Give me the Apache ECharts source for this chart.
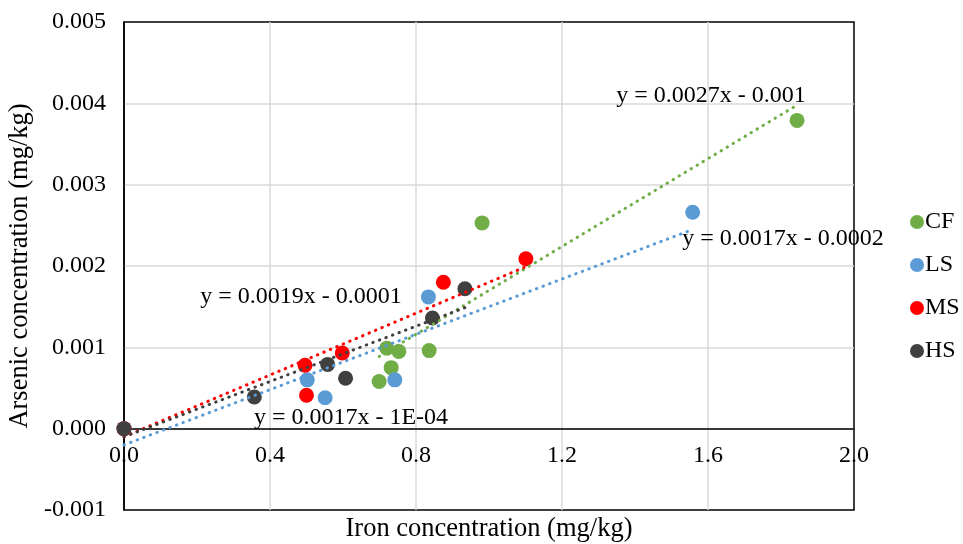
<!DOCTYPE html>
<html>
<head>
<meta charset="utf-8">
<script src="https://cdn.jsdelivr.net/npm/echarts@6/dist/echarts.min.js"></script>
<style>
  html, body { margin: 0; padding: 0; background: #fff; }
  #chart { width: 963px; height: 544px; }
</style>
</head>
<body>
<div id="chart"></div>
<script>
// Iron (x) vs arsenic (y) concentrations, mg/kg, for each sample group
const cfIron    = [0.699, 0.720, 0.732, 0.753, 0.836, 0.981, 1.844];
const cfArsenic = [0.00058, 0.00099, 0.00075, 0.00095, 0.00096, 0.00253, 0.00379];

const lsIron    = [0, 0.502, 0.551, 0.742, 0.834, 1.558];
const lsArsenic = [0, 0.00060, 0.00038, 0.00060, 0.00162, 0.00266];

const msIron    = [0, 0.496, 0.500, 0.598, 0.875, 1.101];
const msArsenic = [0, 0.00078, 0.00041, 0.00093, 0.00180, 0.00209];

const hsIron    = [0, 0.357, 0.558, 0.607, 0.845, 0.934];
const hsArsenic = [0, 0.00039, 0.00079, 0.00062, 0.00136, 0.00172];

// Linear trendline coefficients (y = slope * x + intercept) and their labels
const trendSlopes     = [0.0027, 0.0017, 0.0019, 0.0017];
const trendIntercepts = [-0.001, -0.0002, -0.0001, -0.0001];
const trendLabels = [
  'y = 0.0027x - 0.001',
  'y = 0.0017x - 0.0002',
  'y = 0.0019x - 0.0001',
  'y = 0.0017x - 1E-04'
];

const groupNames  = ['CF', 'LS', 'MS', 'HS'];
const groupColors = ['#70ad47', '#5b9bd5', '#ff0000', '#404040'];

const xTicks = { min: 0, max: 2.0, interval: 0.4 };
const yTicks = { min: -0.001, max: 0.005, interval: 0.001 };

const FONT = '"Liberation Serif", "Times New Roman", serif';

const groups = [
  [cfIron, cfArsenic],
  [lsIron, lsArsenic],
  [msIron, msArsenic],
  [hsIron, hsArsenic]
];

const scatterSeries = groups.map(([xs, ys], i) => ({
  name: groupNames[i],
  type: 'scatter',
  symbol: 'circle',
  symbolSize: 15,
  itemStyle: { color: groupColors[i], opacity: 1 },
  data: xs.map((x, k) => [x, ys[k]]),
  z: 3 + i
}));

const trendSeries = groups.map(([xs], i) => {
  const lo = Math.min(...xs), hi = Math.max(...xs);
  const f = x => trendSlopes[i] * x + trendIntercepts[i];
  return {
    name: groupNames[i] + ' trend',
    type: 'line',
    showSymbol: false,
    symbol: 'none',
    silent: true,
    data: [[lo, f(lo)], [hi, f(hi)]],
    lineStyle: { color: groupColors[i], width: 3, type: [0.5, 6.5], cap: 'round' },
    z: 10
  };
});

// Equation label placement (pixel position of each label's centre)
const labelPos = [[711, 96], [783, 239], [301, 297], [351, 418]];

const gridLine = { show: true, showMinLine: false, showMaxLine: false, lineStyle: { color: '#d9d9d9', width: 1.5 } };

const chart = echarts.init(document.getElementById('chart'), null, { renderer: 'canvas' });
chart.setOption({
  animation: false,
  backgroundColor: '#ffffff',
  textStyle: { fontFamily: FONT, color: '#000' },
  grid: {
    left: 124, right: 109, top: 22, bottom: 34,
    containLabel: false,
    outerBoundsMode: 'none',
    show: true, borderColor: '#000', borderWidth: 1.5, backgroundColor: 'transparent'
  },
  legend: {
    orient: 'vertical',
    left: 905,
    top: 205,
    itemGap: 19,
    itemWidth: 14,
    itemHeight: 14,
    icon: 'circle',
    data: groupNames,
    textStyle: { fontFamily: FONT, fontSize: 24, color: '#000', padding: [0, 0, 0, -4] }
  },
  xAxis: {
    type: 'value',
    min: xTicks.min, max: xTicks.max, interval: xTicks.interval,
    name: 'Iron concentration (mg/kg)',
    nameLocation: 'middle',
    nameGap: 6,
    nameTextStyle: { fontFamily: FONT, fontSize: 26.5, color: '#000', verticalAlign: 'top' },
    axisLine: { show: true, onZero: true, lineStyle: { color: '#000', width: 1.5 } },
    axisTick: { show: false },
    // tick labels sit just under the zero line, inside the plot
    axisLabel: {
      fontFamily: FONT, fontSize: 24, color: '#000', margin: -66,
      formatter: v => v.toFixed(1)
    },
    splitLine: gridLine
  },
  yAxis: {
    type: 'value',
    min: yTicks.min, max: yTicks.max, interval: yTicks.interval,
    name: 'Arsenic concentration (mg/kg)',
    nameLocation: 'middle',
    nameGap: 90,
    nameTextStyle: { fontFamily: FONT, fontSize: 26.5, color: '#000' },
    axisLine: { show: true, onZero: false, lineStyle: { color: '#000', width: 1.5 } },
    axisTick: { show: false },
    axisLabel: {
      fontFamily: FONT, fontSize: 24, color: '#000', margin: 18,
      formatter: v => v.toFixed(3)
    },
    splitLine: gridLine
  },
  graphic: trendLabels.map((t, i) => ({
    type: 'text',
    x: labelPos[i][0],
    y: labelPos[i][1],
    z: 100,
    style: {
      text: t,
      font: '24px ' + FONT,
      fill: '#000',
      align: 'center',
      verticalAlign: 'middle'
    }
  })),
  series: [...scatterSeries, ...trendSeries]
});
</script>
</body>
</html>
